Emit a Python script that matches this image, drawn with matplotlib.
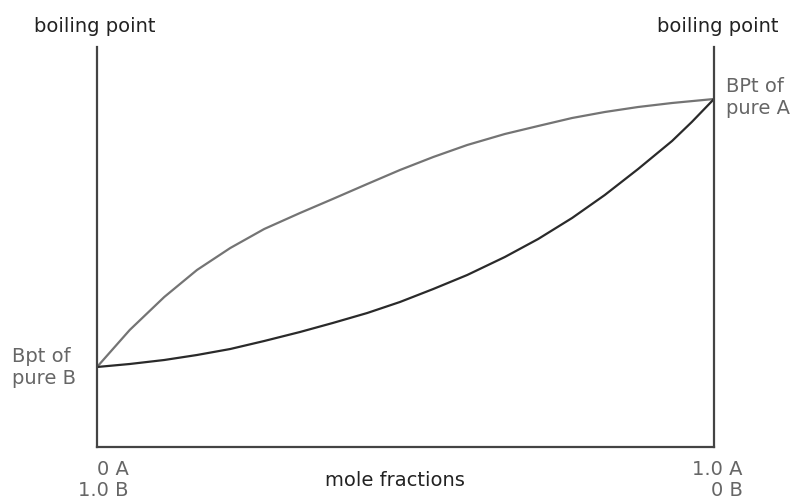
import matplotlib
matplotlib.use("Agg")
import matplotlib.pyplot as plt

# mole fraction of A (0..1) and boiling temperature (arbitrary units, 0..400)
vapour_x = [0.0, 0.053, 0.109, 0.162, 0.216, 0.271, 0.329, 0.382, 0.438, 0.491,
            0.545, 0.600, 0.661, 0.715, 0.770, 0.823, 0.877, 0.932, 1.0]
vapour_t = [80, 117, 150, 177, 199, 218, 234, 248, 263, 277,
            290, 302, 313, 321, 329, 335, 340, 344, 348]

liquid_x = [0.0, 0.053, 0.109, 0.162, 0.216, 0.271, 0.329, 0.382, 0.438, 0.491,
            0.545, 0.600, 0.661, 0.715, 0.770, 0.823, 0.877, 0.932, 0.964, 1.0]
liquid_t = [80, 83, 87, 92, 98, 106, 115, 124, 134, 145,
            158, 172, 190, 208, 229, 252, 278, 306, 325, 348]

y_label = "boiling point"
x_label = "mole fractions"
left_end = "Bpt of\npure B"
right_end = "BPt of\npure A"
left_tick = "0 A\n1.0 B"
right_tick = "1.0 A\n0 B"

W, H = 799, 502
fig = plt.figure(figsize=(W / 100, H / 100), dpi=100)
ax = fig.add_axes([97 / W, (H - 448) / H, (714 - 97) / W, (448 - 48) / H])
ax.set_xlim(0, 1)
ax.set_ylim(0, 400)

ax.plot(vapour_x, vapour_t, color="#747474", lw=1.6, solid_capstyle="round", solid_joinstyle="round")
ax.plot(liquid_x, liquid_t, color="#2a2a2a", lw=1.6, solid_capstyle="round", solid_joinstyle="round")

for s in ["left", "bottom", "right"]:
    ax.spines[s].set_color("#444444")
    ax.spines[s].set_linewidth(1.6)
ax.spines["top"].set_visible(False)
ax.set_xticks([])
ax.set_yticks([])

fs = 14
ls = 1.2
fig.text(95 / W, 1 - 27 / H, y_label, ha="center", va="center", fontsize=fs, color="#222222")
fig.text(718 / W, 1 - 27 / H, y_label, ha="center", va="center", fontsize=fs, color="#222222")
fig.text(395 / W, 1 - 481 / H, x_label, ha="center", va="center", fontsize=fs, color="#222222")

fig.text(12 / W, 1 - 347 / H, left_end, ha="left", va="top", fontsize=fs, color="#666666", linespacing=ls)
fig.text(726 / W, 1 - 77 / H, right_end, ha="left", va="top", fontsize=fs, color="#666666", linespacing=ls)
fig.text(129 / W, 1 - 460 / H, left_tick, ha="right", va="top", fontsize=fs, color="#666666", linespacing=1.15)
fig.text(743 / W, 1 - 460 / H, right_tick, ha="right", va="top", fontsize=fs, color="#666666", linespacing=1.15)

fig.savefig("out.png", dpi=100, facecolor="white")
